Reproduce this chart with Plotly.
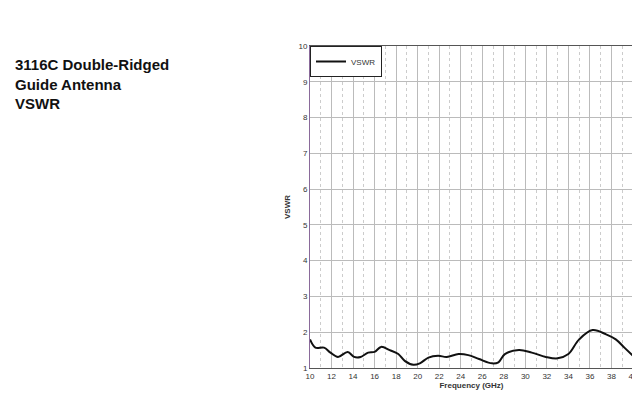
import plotly.graph_objects as go

freq = [10, 10.5, 11.3, 11.9, 12.6, 13.5, 14.1, 14.7, 15.4, 16, 16.6, 17.4, 18.2, 18.8, 19.6, 20.2, 21, 21.9, 22.7, 23.8, 24.7, 25.7, 26.9, 27.5, 28.1, 29.4, 30.6, 31.9, 33, 34, 35, 36.25, 37.5, 38.4, 39.2, 40]
vswr = [1.80, 1.57, 1.57, 1.43, 1.31, 1.45, 1.31, 1.31, 1.43, 1.45, 1.59, 1.50, 1.39, 1.20, 1.09, 1.13, 1.29, 1.34, 1.31, 1.39, 1.36, 1.25, 1.13, 1.16, 1.39, 1.50, 1.43, 1.31, 1.27, 1.39, 1.80, 2.06, 1.94, 1.80, 1.57, 1.34]
x_ticks = list(range(10, 41, 2))
y_ticks = list(range(1, 11))

fig = go.Figure()
fig.add_trace(go.Scatter(x=freq, y=vswr, mode="lines", name="VSWR",
                         line=dict(color="#111", width=2, shape="spline")))
fig.update_layout(
    width=640, height=420, paper_bgcolor="white", plot_bgcolor="white",
    margin=dict(l=302, r=15, t=38, b=60, autoexpand=False),
    font=dict(family="Liberation Sans", size=8, color="#333"),
    showlegend=True,
    legend=dict(x=0.0, y=1.0, xanchor="left", yanchor="top", bordercolor="#222", borderwidth=1,
                bgcolor="white", font=dict(size=8)),
    annotations=[dict(text="<b>3116C Double-Ridged<br>Guide Antenna<br>VSWR</b>",
                      x=-0.92, y=0.975, xref="paper", yref="paper", showarrow=False, align="left",
                      xanchor="left", yanchor="top", font=dict(size=15, color="#111"))],
)
fig.update_xaxes(range=[10, 40], tickvals=x_ticks, showgrid=True, gridcolor="#bbb",
                 minor=dict(dtick=1, showgrid=True, gridcolor="#ccc", griddash="dot"),
                 showline=True, linecolor="#555", mirror=True, ticks="",
                 title=dict(text="<b>Frequency (GHz)</b>", font=dict(size=8), standoff=2))
fig.update_yaxes(range=[1, 10], tickvals=y_ticks, showgrid=True, gridcolor="#bbb",
                 showline=True, linecolor="#8a6a9a", mirror=True, ticks="",
                 title=dict(text="<b>VSWR</b>", font=dict(size=8), standoff=6))
fig.write_html("out.html")
